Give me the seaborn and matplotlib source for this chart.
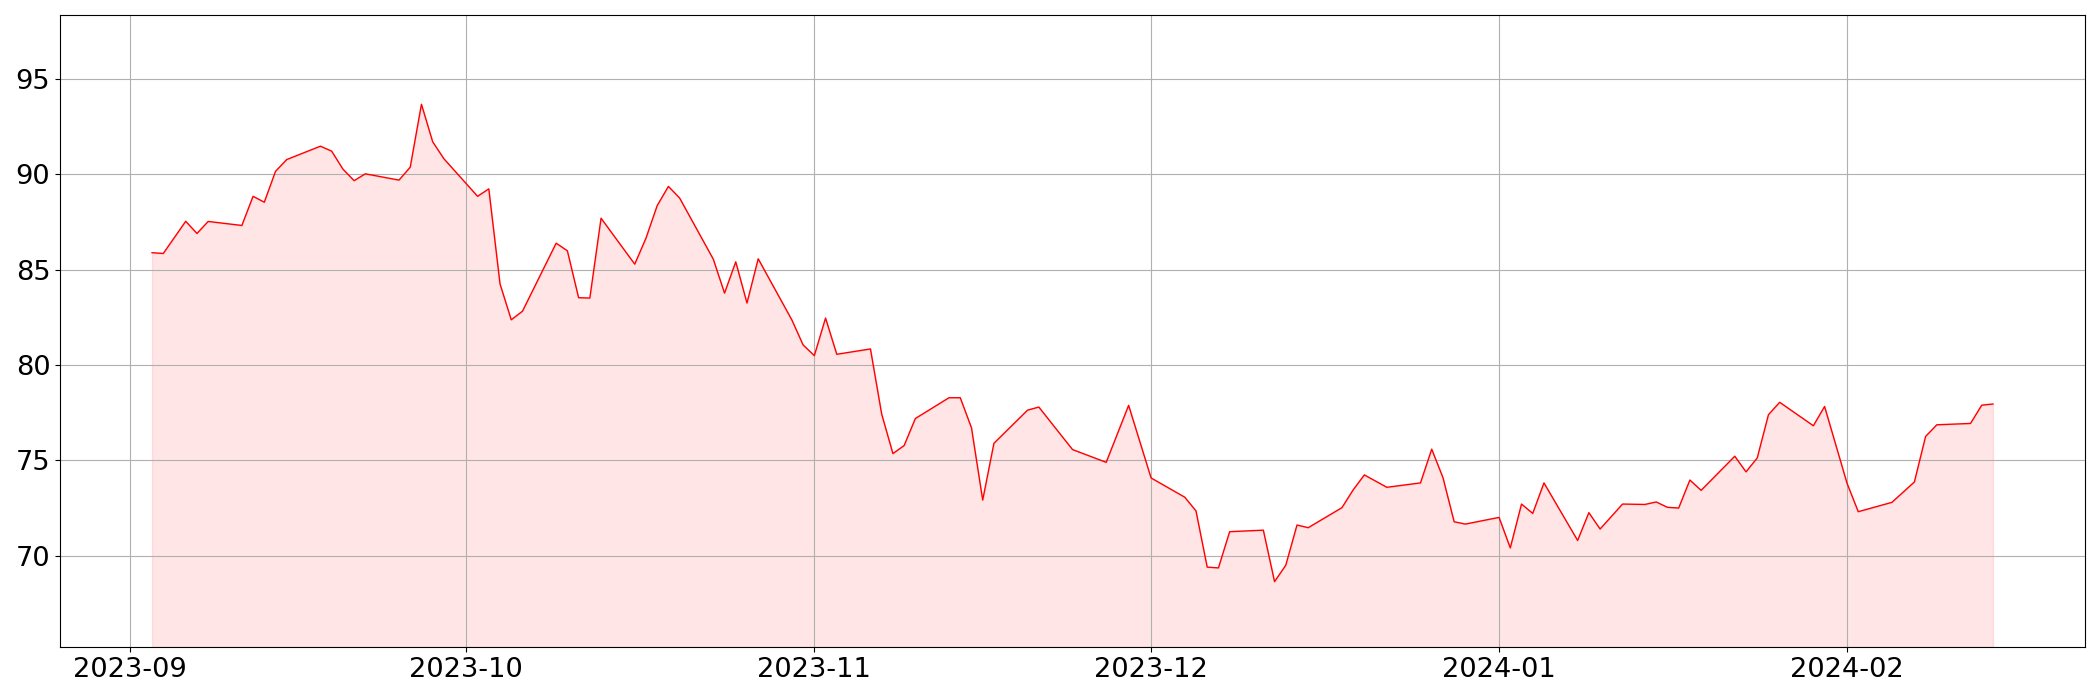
import matplotlib
matplotlib.use('Agg')
import matplotlib.pyplot as plt
import seaborn as sns
import numpy as np
import pandas as pd

#%% data (trading days, Sep 2023 - Feb 2024)
dates = ['2023-09-03', '2023-09-04', '2023-09-06', '2023-09-07', '2023-09-08',
         '2023-09-11', '2023-09-12', '2023-09-13', '2023-09-14', '2023-09-15',
         '2023-09-18', '2023-09-19', '2023-09-20', '2023-09-21', '2023-09-22',
         '2023-09-25', '2023-09-26', '2023-09-27', '2023-09-28', '2023-09-29',
         '2023-10-02', '2023-10-03', '2023-10-04', '2023-10-05', '2023-10-06',
         '2023-10-09', '2023-10-10', '2023-10-11', '2023-10-12', '2023-10-13',
         '2023-10-16', '2023-10-17', '2023-10-18', '2023-10-19', '2023-10-20',
         '2023-10-23', '2023-10-24', '2023-10-25', '2023-10-26', '2023-10-27',
         '2023-10-30', '2023-10-31', '2023-11-01', '2023-11-02', '2023-11-03',
         '2023-11-06', '2023-11-07', '2023-11-08', '2023-11-09', '2023-11-10',
         '2023-11-13', '2023-11-14', '2023-11-15', '2023-11-16', '2023-11-17',
         '2023-11-20', '2023-11-21', '2023-11-24',
         '2023-11-27', '2023-11-29', '2023-12-01',
         '2023-12-04', '2023-12-05', '2023-12-06', '2023-12-07', '2023-12-08',
         '2023-12-11', '2023-12-12', '2023-12-13', '2023-12-14', '2023-12-15',
         '2023-12-18', '2023-12-19', '2023-12-20', '2023-12-22',
         '2023-12-25', '2023-12-26', '2023-12-27', '2023-12-28', '2023-12-29',
         '2024-01-01', '2024-01-02', '2024-01-03', '2024-01-04', '2024-01-05',
         '2024-01-08', '2024-01-09', '2024-01-10', '2024-01-12',
         '2024-01-14', '2024-01-15', '2024-01-16', '2024-01-17', '2024-01-18', '2024-01-19',
         '2024-01-22', '2024-01-23', '2024-01-24', '2024-01-25', '2024-01-26',
         '2024-01-29', '2024-01-30', '2024-02-01', '2024-02-02',
         '2024-02-05', '2024-02-07', '2024-02-08', '2024-02-09',
         '2024-02-12', '2024-02-13', '2024-02-14']

values = [85.89, 85.85, 87.54, 86.90, 87.53,
          87.32, 88.85, 88.54, 90.16, 90.78,
          91.48, 91.22, 90.28, 89.67, 90.03,
          89.70, 90.38, 93.68, 91.71, 90.82,
          88.85, 89.24, 84.25, 82.37, 82.82,
          86.39, 85.99, 83.53, 83.51, 87.70,
          85.29, 86.65, 88.36, 89.37, 88.76,
          85.55, 83.77, 85.41, 83.25, 85.57,
          82.36, 81.05, 80.49, 82.46, 80.56,
          80.84, 77.42, 75.35, 75.77, 77.19,
          78.28, 78.28, 76.70, 72.91, 75.89,
          77.63, 77.79, 75.56,
          74.89, 77.88, 74.07,
          73.06, 72.34, 69.39, 69.35, 71.25,
          71.33, 68.63, 69.49, 71.60, 71.46,
          72.51, 73.44, 74.23, 73.58,
          73.81, 75.58, 74.09, 71.77, 71.65,
          72.00, 70.40, 72.70, 72.21, 73.81,
          70.79, 72.25, 71.39, 72.70,
          72.68, 72.81, 72.53, 72.49, 73.96, 73.42,
          75.21, 74.39, 75.12, 77.39, 78.04,
          76.81, 77.82, 73.79, 72.30,
          72.79, 73.86, 76.25, 76.86,
          76.93, 77.89, 77.95]

df = pd.DataFrame({'date': pd.to_datetime(dates), 'value': values})

#%% plotting
fig, ax = plt.subplots(figsize=(21, 7), dpi=100)
sns.lineplot(data=df, x='date', y='value', color='red', linewidth=1, ax=ax)
# shade down to the bottom of the axis
low = df['value'].min() * 0.95
high = df['value'].max() * 1.05
ax.fill_between(df['date'], df['value'], low, color='red', alpha=0.1)
ax.set_ylim(low, high)
ax.grid(True)
ax.set_xlabel('')
ax.set_ylabel('')
ax.tick_params(labelsize=19.6)
fig.subplots_adjust(left=60/2100, right=2085/2100, top=1-15/700, bottom=1-647/700)
fig.savefig('out.png', dpi=100)
